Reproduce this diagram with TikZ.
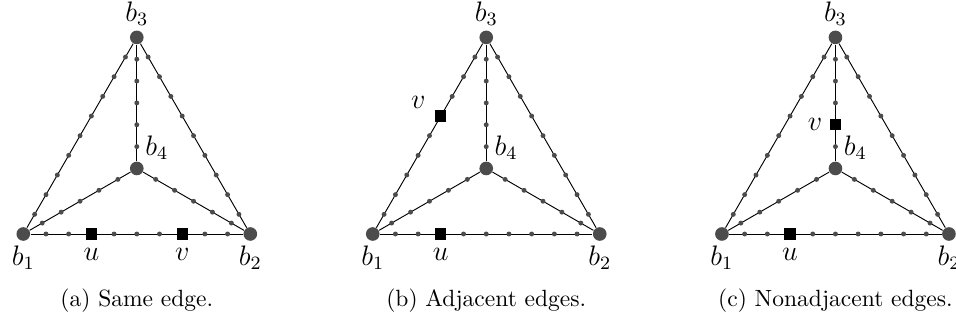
\documentclass[tikz,border=0pt]{standalone}
\usepackage{amsmath}
\usepackage{tikz}
\usetikzlibrary{positioning, calc}

% edge from #1 to #2 cut into #3 equal pieces
\newcommand{\subedge}[3]{%
  \draw[edge] (#1) -- (#2);
  \pgfmathtruncatemacro{\nlast}{#3-1}
  \foreach \k in {1,...,\nlast}{
    \pgfmathsetmacro{\kpos}{\k/#3}
    \path (#1.center) -- (#2.center) node[subdot, pos=\kpos] {};
  }
}

% one copy of the subdivided K4, nodes named #1b1 ... #1b4
\newcommand{\kfour}[1]{%
  \node[vtx, label={below:$b_1$}] (#1b1) at (0,0) {};
  \node[vtx, label={below:$b_2$}] (#1b2) at (96.6pt,0) {};
  \node[vtx, label={above:$b_3$}] (#1b3) at (48.3pt,83.66pt) {};
  \node[vtx, label={[label distance=-3pt]above right:$b_4$}] (#1b4) at (48.3pt,27.89pt) {};
  \subedge{#1b1}{#1b2}{10}
  \subedge{#1b1}{#1b3}{10}
  \subedge{#1b3}{#1b2}{10}
  \subedge{#1b1}{#1b4}{6}
  \subedge{#1b2}{#1b4}{6}
  \subedge{#1b3}{#1b4}{6}
}

\begin{document}
\begin{tikzpicture}[
    font=\normalsize,
    label distance=-1.5pt,
    every label/.style={font=\large},
    edge/.style={thin, black},
    vtx/.style={circle, fill=black!70, inner sep=0pt, minimum size=5.8pt},
    subdot/.style={circle, fill=black!70, inner sep=0pt, minimum size=2.1pt},
    sq/.style={rectangle, fill=black, inner sep=0pt, minimum size=4.8pt},
    caption/.style={anchor=base}
  ]
  \useasboundingbox (-9.91pt,-37.45pt) rectangle (396.9pt,99.57pt);

  % (a) same edge
  \begin{scope}
    \kfour{a}
    \node[sq, label={[label distance=0pt]below:$u$}] (au) at ($(ab1)!0.3!(ab2)$) {};
    \node[sq, label={[label distance=0pt]below:$v$}] (av) at ($(ab1)!0.7!(ab2)$) {};
    \node[caption] (capa) at (48.3pt,-31pt) {(a) Same edge.};
  \end{scope}

  % (b) adjacent edges
  \begin{scope}[xshift=148.7pt]
    \kfour{b}
    \node[sq, label={[xshift=-1.5pt, yshift=-2pt]above left:$v$}] (bv) at ($(bb1)!0.6!(bb3)$) {};
    \node[sq, label={[label distance=0pt]below:$u$}] (bu) at ($(bb1)!0.3!(bb2)$) {};
    \node[caption] (capb) at (48.3pt,-31pt) {(b) Adjacent edges.};
  \end{scope}

  % (c) nonadjacent edges
  \begin{scope}[xshift=297.3pt]
    \kfour{c}
    \node[sq, label={[label distance=-0.5pt]left:$v$}] (cv) at ($(cb3)!4/6!(cb4)$) {};
    \node[sq, label={[label distance=0pt]below:$u$}] (cu) at ($(cb1)!0.3!(cb2)$) {};
    \node[caption] (capc) at (48.3pt,-31pt) {(c) Nonadjacent edges.};
  \end{scope}

\end{tikzpicture}
\end{document}
